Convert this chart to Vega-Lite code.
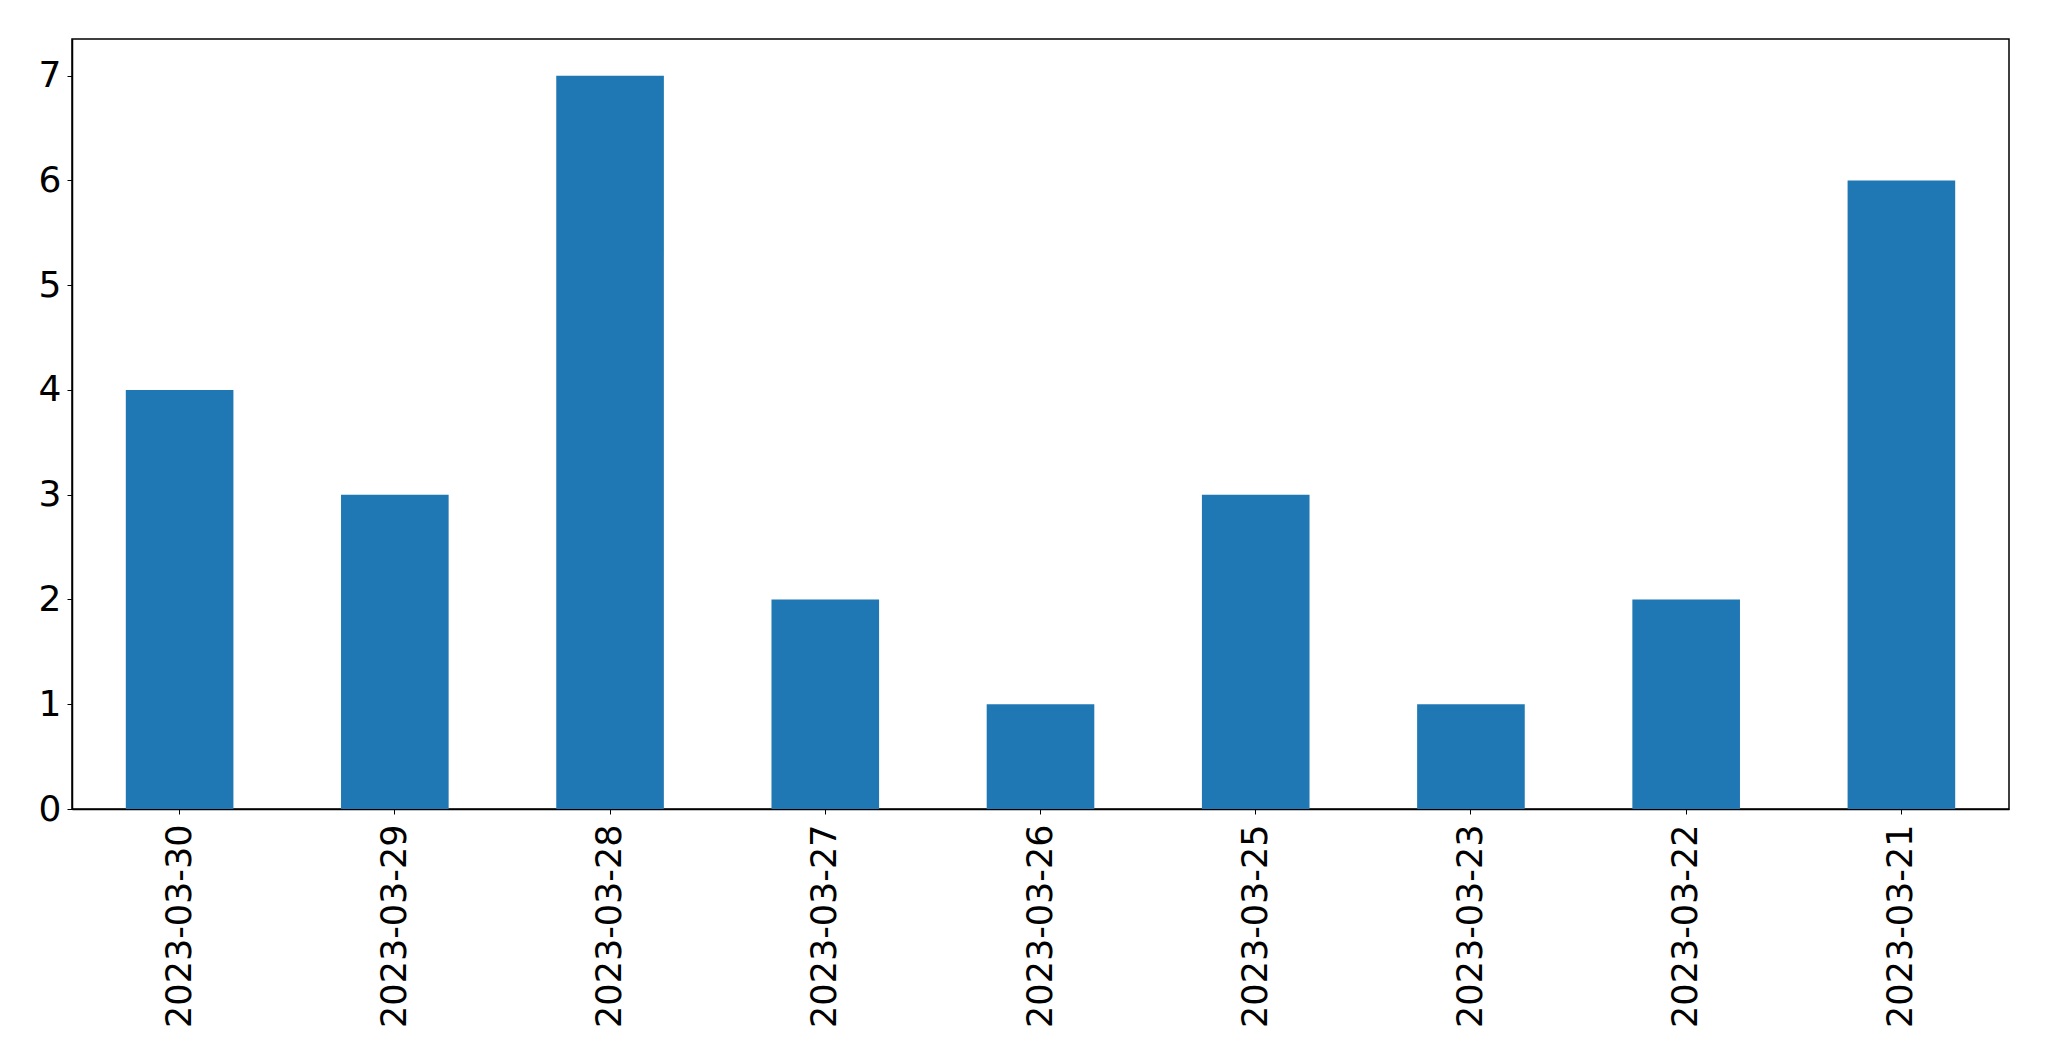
{
  "$schema": "https://vega.github.io/schema/vega-lite/v6.json",
  "autosize": "none",
  "width": 1937,
  "height": 770,
  "padding": {"left": 72, "top": 39, "right": 40, "bottom": 252},
  "background": "white",
  "data": {
    "values": [
      {"date": "2023-03-30", "count": 4},
      {"date": "2023-03-29", "count": 3},
      {"date": "2023-03-28", "count": 7},
      {"date": "2023-03-27", "count": 2},
      {"date": "2023-03-26", "count": 1},
      {"date": "2023-03-25", "count": 3},
      {"date": "2023-03-23", "count": 1},
      {"date": "2023-03-22", "count": 2},
      {"date": "2023-03-21", "count": 6}
    ]
  },
  "mark": {"type": "bar", "color": "#1f77b4"},
  "encoding": {
    "x": {
      "field": "date", "type": "nominal", "sort": null,
      "scale": {"paddingInner": 0.5, "paddingOuter": 0.25},
      "axis": {
        "title": null, "labelAngle": 270, "labelAlign": "right", "labelBaseline": "middle",
        "labelFont": "DejaVu Sans", "labelFontSize": 35, "labelColor": "black", "labelLimit": 0,
        "labelPadding": 10, "tickSize": 5, "tickColor": "black", "domainColor": "black", "domainWidth": 1.5
      }
    },
    "y": {
      "field": "count", "type": "quantitative",
      "scale": {"domain": [0, 7.35], "nice": false},
      "axis": {
        "title": null, "values": [0, 1, 2, 3, 4, 5, 6, 7], "grid": false,
        "labelFont": "DejaVu Sans", "labelFontSize": 36, "labelColor": "black",
        "labelPadding": 6, "tickSize": 5, "tickColor": "black", "domainColor": "black", "domainWidth": 1.5,
        "labelFlush": false
      }
    }
  },
  "config": {"view": {"stroke": "black", "strokeWidth": 1.5}}
}
